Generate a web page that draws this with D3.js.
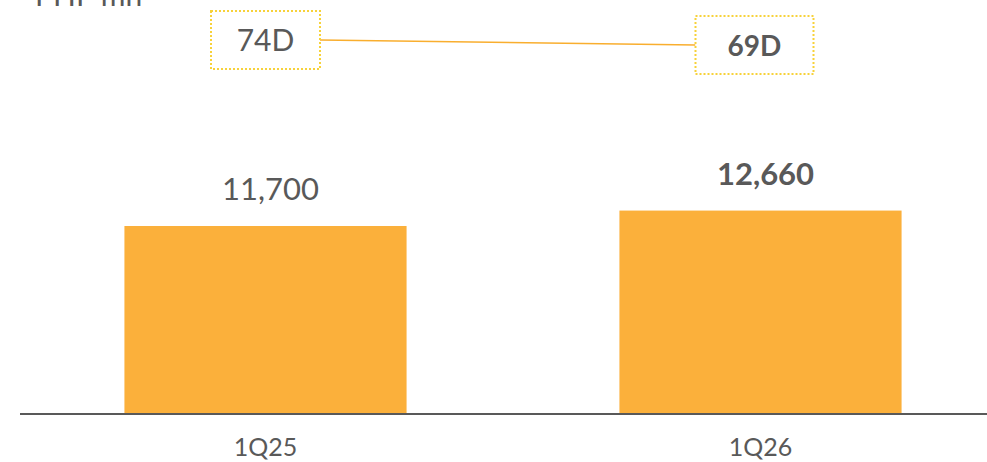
<!DOCTYPE html>
<html>
<head>
<meta charset="utf-8">
<script src="https://cdn.jsdelivr.net/npm/d3@7"></script>
<style>
  body { margin: 0; background: #fff; }
  svg { display: block; font-family: Lato, "Open Sans", sans-serif; }
</style>
</head>
<body>
<div class="chart"></div>
<script>
let categories = ["1Q25", "1Q26"]
let values = [11700, 12660]
let value_labels = ["11,700", "12,660"]
let days = [74, 69]
let day_labels = ["74D", "69D"]
let unit_label = "PHP mn"

let width = 987
let height = 462
let axis_y = 414
let text_color = "#595959"
let bar_color = "#FBB03B"

let svg = d3.select(".chart")
    .append("svg")
        .attr("width", width)
        .attr("height", height)

let x = d3.scaleBand()
    .domain(categories)
    .range([18, 1008])
    .paddingInner(0.43)
    .paddingOuter(0.215)

let y = d3.scaleLinear()
    .domain([0, 11700])
    .range([axis_y, 226])

// days line scale
let y_days = d3.scaleLinear()
    .domain([0, 100])
    .range([114, 14])

svg.append("text")
    .attr("x", 35)
    .attr("y", 6)
    .attr("fill", text_color)
    .attr("font-size", 30)
    .text(unit_label)

svg.append("g")
    .selectAll("rect")
    .data(values)
    .enter()
    .append("rect")
        .attr("x", (d, i) => x(categories[i]))
        .attr("y", d => y(d))
        .attr("width", x.bandwidth())
        .attr("height", d => axis_y - y(d))
        .attr("fill", bar_color)

svg.append("g")
    .selectAll("text")
    .data(values)
    .enter()
    .append("text")
        .attr("x", (d, i) => x(categories[i]) + x.bandwidth() / 2 + 5)
        .attr("y", d => y(d) - 26)
        .attr("text-anchor", "middle")
        .attr("fill", text_color)
        .attr("font-size", 31)
        .attr("font-weight", (d, i) => i == 1 ? "bold" : "normal")
        .text((d, i) => value_labels[i])

// x axis
let x_axis = svg.append("g")
    .attr("transform", "translate(0," + axis_y + ")")
    .call(d3.axisBottom(x).tickSize(0).tickPadding(24))
x_axis.select(".domain")
    .attr("d", "M20,0H987")
    .attr("stroke", text_color)
    .attr("stroke-width", 2)
x_axis.selectAll("text")
    .attr("fill", text_color)
    .attr("font-size", 25)
    .attr("font-family", "Lato, 'Open Sans', sans-serif")

// days boxes + line
let box_w = [109, 118]
let box_h = 58
let box_cx = days.map((d, i) => x(categories[i]) + x.bandwidth() / 2)

svg.append("line")
    .attr("x1", box_cx[0] + box_w[0] / 2)
    .attr("y1", y_days(days[0]))
    .attr("x2", box_cx[1] - 6 - box_w[1] / 2)
    .attr("y2", y_days(days[1]))
    .attr("stroke", "#F9AE2E")
    .attr("stroke-width", 1.5)

let boxes = svg.append("g")
    .selectAll("g")
    .data(days)
    .enter()
    .append("g")
        .attr("transform", (d, i) => "translate(" + (box_cx[i] - (i == 1 ? 6 : 0)) + "," + y_days(d) + ")")

boxes.append("rect")
    .attr("x", (d, i) => -box_w[i] / 2)
    .attr("y", -box_h / 2)
    .attr("width", (d, i) => box_w[i])
    .attr("height", box_h)
    .attr("fill", "#fff")
    .attr("stroke", "#F7D23A")
    .attr("stroke-width", 2)
    .attr("stroke-dasharray", "2,2")

boxes.append("text")
    .attr("y", 11)
    .attr("text-anchor", "middle")
    .attr("fill", text_color)
    .attr("font-size", (d, i) => i == 1 ? 28 : 30)
    .attr("font-weight", (d, i) => i == 1 ? "bold" : "normal")
    .text((d, i) => day_labels[i])
</script>
</body>
</html>
